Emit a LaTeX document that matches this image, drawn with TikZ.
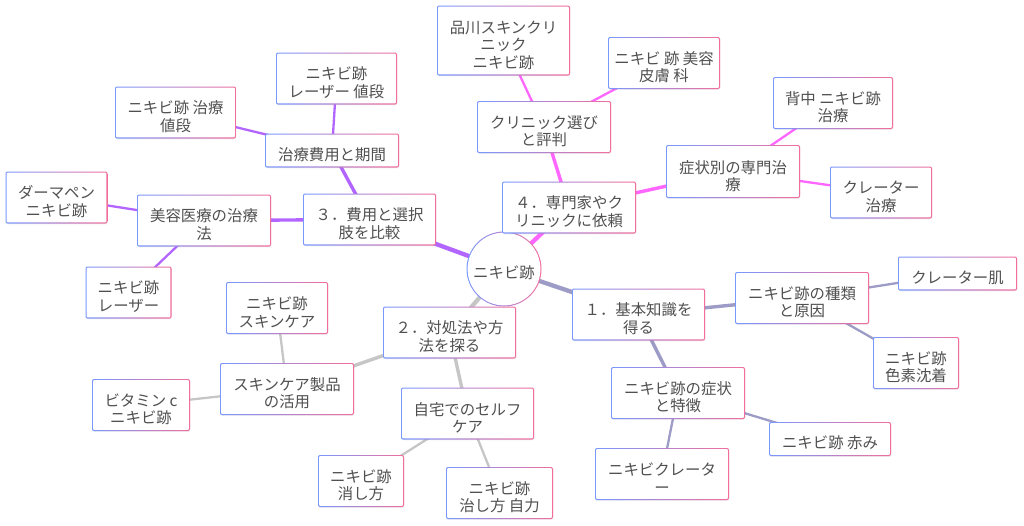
\documentclass[tikz,border=0pt]{standalone}
\usepackage{fontspec}
\setmainfont{Noto Sans CJK JP}
\usetikzlibrary{backgrounds, shadows}
\definecolor{txtgray}{HTML}{505050}
\definecolor{edgeone}{HTML}{9C9CC6}
\definecolor{edgetwo}{HTML}{C6C6C6}
\definecolor{edgethree}{HTML}{B366FF}
\definecolor{edgefour}{HTML}{FF66FF}
\definecolor{borderL}{HTML}{7898FF}
\definecolor{borderM}{HTML}{B8A4E4}
\definecolor{borderR}{HTML}{F26E9C}
\tikzset{
  gradborder/.style={left color=borderL, middle color=borderM, right color=borderR, text=txtgray, font=\fontsize{15.4}{17.6}\selectfont, align=center, inner sep=0pt},
  tbox/.style 2 args={gradborder, rounded corners=2pt, minimum width=#1, minimum height=#2, text height=\dimexpr#2-12.9pt\relax,
    drop shadow={opacity=.12, shadow xshift=.4pt, shadow yshift=-.9pt},
    path picture={\fill[white, rounded corners=1pt] ([shift={(1.1pt,1.1pt)}]path picture bounding box.south west) rectangle ([shift={(-1.1pt,-1.1pt)}]path picture bounding box.north east);}},
  rootnode/.style={gradborder, circle, minimum size=75pt, text height=21.1pt,
    path picture={\fill[white] (path picture bounding box.center) circle (36.4pt);}},
  edgeA/.style={line width=4.3pt},
  edgeB/.style={line width=3.4pt},
  edgeC/.style={line width=2.3pt},
}
\begin{document}
\begin{tikzpicture}[x=1pt, y=-1pt]
  \useasboundingbox (0,0) rectangle (1024,525);
  % center
  \node[rootnode] at (504,269) (root) {ニキビ跡};
  % first level
  \node[tbox={133pt}{52pt}] at (638.5,314.5) (basic) {１．基本知識を\\得る};
  \node[tbox={133pt}{52pt}] at (449.5,332.5) (care) {２．対処法や方\\法を探る};
  \node[tbox={133pt}{52pt}] at (369.5,219.5) (cost) {３．費用と選択\\肢を比較};
  \node[tbox={134pt}{52pt}] at (569,207.5) (expert) {４．専門家やク\\リニックに依頼};
  % branch 1
  \node[tbox={134pt}{52pt}] at (802,298) (kinds) {ニキビ跡の種類\\と原因};
  \node[tbox={134pt}{52pt}] at (678,393) (signs) {ニキビ跡の症状\\と特徴};
  \node[tbox={119pt}{34pt}] at (957.5,273.5) (crater) {クレーター肌};
  \node[tbox={86pt}{52pt}] at (916,363) (pigment) {ニキビ跡\\色素沈着};
  \node[tbox={122pt}{34pt}] at (830,439) (redness) {ニキビ跡 赤み};
  \node[tbox={134pt}{52pt}] at (662,474) (nikicrater) {ニキビクレータ\\ー};
  % branch 2
  \node[tbox={133pt}{52pt}] at (467.5,413.5) (selfcare) {自宅でのセルフ\\ケア};
  \node[tbox={134pt}{52pt}] at (287,389) (skinprod) {スキンケア製品\\の活用};
  \node[tbox={86pt}{52pt}] at (361,481) (erase) {ニキビ跡\\消し方};
  \node[tbox={107pt}{52pt}] at (499.5,493) (heal) {ニキビ跡\\治し方 自力};
  \node[tbox={102pt}{52pt}] at (277,308) (skincare) {ニキビ跡\\スキンケア};
  \node[tbox={98pt}{52pt}] at (141,405) (vitamin) {ビタミン c\\ニキビ跡};
  % branch 3
  \node[tbox={134pt}{34pt}] at (332,150.5) (period) {治療費用と期間};
  \node[tbox={134pt}{52pt}] at (204,220.5) (beauty) {美容医療の治療\\法};
  \node[tbox={121pt}{52pt}] at (175.5,112.5) (price) {ニキビ跡 治療\\値段};
  \node[tbox={121pt}{52pt}] at (336.5,78.5) (laserprice) {ニキビ跡\\レーザー 値段};
  \node[tbox={102pt}{52pt}] at (56.5,197.5) (derma) {ダーマペン\\ニキビ跡};
  \node[tbox={86pt}{52pt}] at (128.5,292.5) (laser) {ニキビ跡\\レーザー};
  % branch 4
  \node[tbox={134pt}{52pt}] at (544,127) (clinic) {クリニック選び\\と評判};
  \node[tbox={134pt}{53pt}] at (733,171.5) (symptom) {症状別の専門治\\療};
  \node[tbox={133pt}{70pt}] at (503.5,40.5) (shinagawa) {品川スキンクリ\\ニック\\ニキビ跡};
  \node[tbox={112pt}{52pt}] at (664,63) (derm) {ニキビ 跡 美容\\皮膚 科};
  \node[tbox={120pt}{52pt}] at (833,103) (back) {背中 ニキビ跡\\治療};
  \node[tbox={102pt}{52pt}] at (881,192.5) (cratercure) {クレーター\\治療};
  % edges
  \begin{pgfonlayer}{background}
    \draw[edgeA, edgeone] (root.center) -- (basic.center);
    \draw[edgeA, edgetwo] (root.center) -- (care.center);
    \draw[edgeA, edgethree] (root.center) -- (cost.center);
    \draw[edgeA, edgefour] (root.center) -- (expert.center);
    \draw[edgeB, edgeone] (basic.center) -- (kinds.center);
    \draw[edgeB, edgeone] (basic.center) -- (signs.center);
    \draw[edgeB, edgetwo] (care.center) -- (selfcare.center);
    \draw[edgeB, edgetwo] (care.center) -- (skinprod.center);
    \draw[edgeB, edgethree] (cost.center) -- (period.center);
    \draw[edgeB, edgethree] (cost.center) -- (beauty.center);
    \draw[edgeB, edgefour] (expert.center) -- (clinic.center);
    \draw[edgeB, edgefour] (expert.center) -- (symptom.center);
    \draw[edgeC, edgeone] (kinds.center) -- (crater.center);
    \draw[edgeC, edgeone] (kinds.center) -- (pigment.center);
    \draw[edgeC, edgeone] (signs.center) -- (redness.center);
    \draw[edgeC, edgeone] (signs.center) -- (nikicrater.center);
    \draw[edgeC, edgetwo] (selfcare.center) -- (erase.center);
    \draw[edgeC, edgetwo] (selfcare.center) -- (heal.center);
    \draw[edgeC, edgetwo] (skinprod.center) -- (skincare.center);
    \draw[edgeC, edgetwo] (skinprod.center) -- (vitamin.center);
    \draw[edgeC, edgethree] (period.center) -- (price.center);
    \draw[edgeC, edgethree] (period.center) -- (laserprice.center);
    \draw[edgeC, edgethree] (beauty.center) -- (derma.center);
    \draw[edgeC, edgethree] (beauty.center) -- (laser.center);
    \draw[edgeC, edgefour] (clinic.center) -- (shinagawa.center);
    \draw[edgeC, edgefour] (clinic.center) -- (derm.center);
    \draw[edgeC, edgefour] (symptom.center) -- (back.center);
    \draw[edgeC, edgefour] (symptom.center) -- (cratercure.center);
  \end{pgfonlayer}
\end{tikzpicture}
\end{document}
